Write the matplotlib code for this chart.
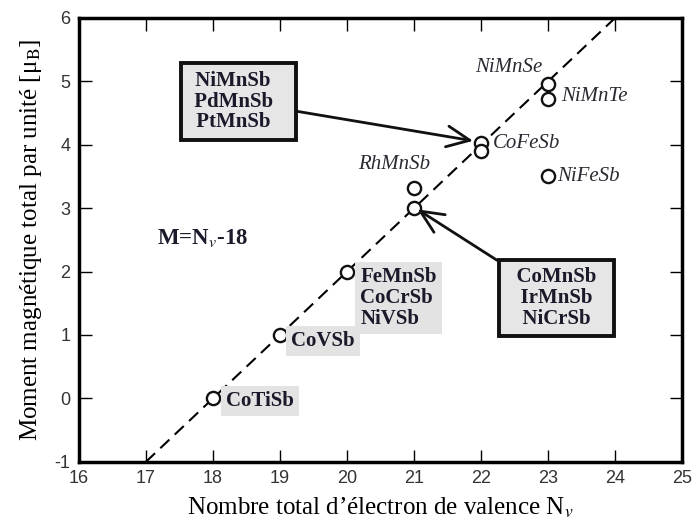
import matplotlib
matplotlib.use('Agg')
import matplotlib.pyplot as plt

# donnees
nv = [18, 19, 20, 21, 21, 22, 22, 23, 23, 23]
moment = [0, 1, 2, 3, 3.32, 4.03, 3.9, 4.95, 4.72, 3.5]

slater_x = [17, 24]
slater_y = [-1, 6]

# etiquettes en italique (nom, x, y)
italic_labels = [
    ('NiMnSe', 21.91, 5.21),
    ('NiMnTe', 23.2, 4.76),
    ('CoFeSb', 22.18, 4.02),
    ('NiFeSb', 23.14, 3.5),
    ('RhMnSb', 20.16, 3.69),
]

# etiquettes sur fond gris (texte, x, y)
grey_labels = [
    ('FeMnSb\nCoCrSb\nNiVSb', 20.2, 1.58),
    ('CoVSb', 19.16, 0.9),
    ('CoTiSb', 18.2, -0.04),
]

plt.rcParams['font.family'] = ['Liberation Serif', 'DejaVu Serif']
plt.rcParams['mathtext.fontset'] = 'stix'
plt.rcParams['axes.unicode_minus'] = False

fig = plt.figure(figsize=(6.92, 5.23), dpi=100)
ax = fig.add_axes([0.114, 0.117, 0.872, 0.849])

ax.plot(slater_x, slater_y, 'k--', lw=1.5, dashes=(6, 3.5))
ax.plot(nv, moment, 'o', ms=9.5, mfc='white', mec='#111111', mew=1.7)

for name, x, y in italic_labels:
    ax.text(x, y, name, style='italic', fontsize=15, va='center', ha='left', color='#2a2a33')

for txt, x, y in grey_labels:
    ax.text(x, y, txt, fontweight='bold', fontsize=15, va='center', ha='left', color='#1a1a2a',
            linespacing=1.05,
            bbox=dict(boxstyle='square,pad=0.25', fc='#e3e3e3', ec='none'))

box = dict(boxstyle='square,pad=0.35', fc='#e6e6e6', ec='#111111', lw=2.8)
head = dict(arrowstyle='->,head_length=1.1,head_width=0.5', lw=2, color='#111111',
            shrinkA=0, shrinkB=0)
ax.annotate(' NiMnSb   \n PdMnSb   \n PtMnSb   ', xy=(21.88, 4.06), xytext=(18.38, 4.68),
            fontweight='bold', fontsize=15, ha='center', va='center', linespacing=1.05,
            color='#1a1a2a', bbox=box, arrowprops=head)
ax.annotate('  CoMnSb  \n  IrMnSb  \n  NiCrSb  ', xy=(21.05, 2.98), xytext=(23.12, 1.58),
            fontweight='bold', fontsize=15, ha='center', va='center', linespacing=1.05,
            color='#1a1a2a', bbox=box, arrowprops=head)

ax.text(17.16, 2.53, 'M=N$_{v}$-18', fontweight='bold', fontsize=16.5, va='center', color='#1a1a2a')

ax.set_xlim(16, 25)
ax.set_ylim(-1, 6)
ax.set_xticks(range(16, 26))
ax.set_yticks(range(-1, 7))
ax.tick_params(direction='in', length=9, width=1, top=True, right=True, labelsize=13, pad=6)
for lab in ax.get_xticklabels() + ax.get_yticklabels():
    lab.set_family(['Liberation Sans', 'DejaVu Sans'])
    lab.set_color('#333333')
for sp in ax.spines.values():
    sp.set_linewidth(2.5)

ax.set_xlabel('Nombre total d\u2019électron de valence N$_{v}$', fontsize=18, labelpad=6)
ax.set_ylabel('Moment magnétique total par unité [μ$_\\mathrm{B}$]', fontsize=18, labelpad=8)

fig.savefig('out.png', dpi=100)
